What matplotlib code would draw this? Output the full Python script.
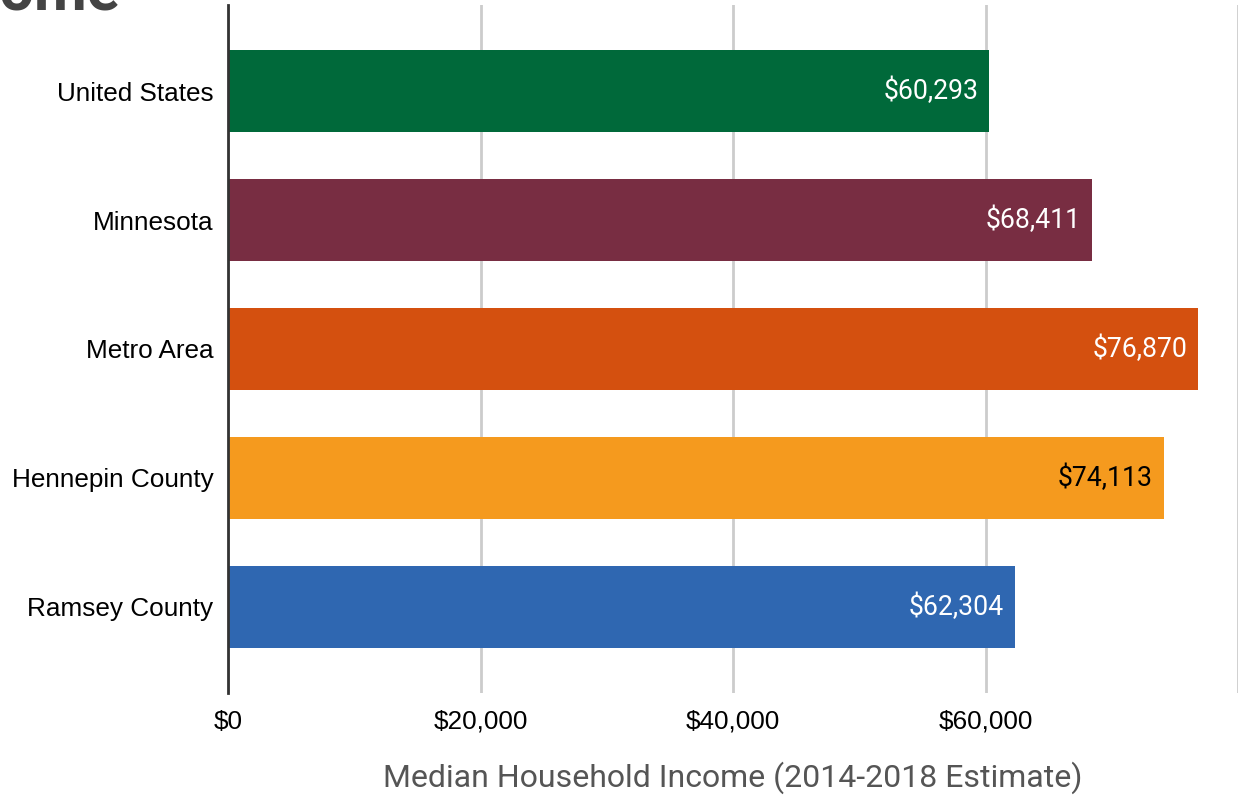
import matplotlib.pyplot as plt
from matplotlib.ticker import FuncFormatter

# median household income, 2014-2018 ACS estimate
regions = ["United States", "Minnesota", "Metro Area", "Hennepin County", "Ramsey County"]
income = [60293, 68411, 76870, 74113, 62304]
bar_colors = ["#00693A", "#782D42", "#D4500F", "#F59A1E", "#2F67B1"]
label_colors = ["white", "white", "white", "black", "white"]
x_ticks = [0, 20000, 40000, 60000, 80000]

fig = plt.figure(figsize=(12.43, 7.96), dpi=100)
ax = fig.add_axes([228 / 1243, 103 / 796, 1010 / 1243, 688 / 796])

ypos = list(range(len(regions)))
ax.barh(ypos, income, height=0.63, color=bar_colors, zorder=3)

for y, v, c in zip(ypos, income, label_colors):
    ax.text(v - 850, y, "${:,}".format(v), ha="right", va="center",
            color=c, fontsize=19.2, family="Roboto", zorder=4)

ax.set_xlim(0, 80000)
ax.set_ylim(len(regions) - 1 + 0.667, -0.667)
ax.set_yticks(ypos)
ax.set_yticklabels(regions, family="Liberation Sans", fontsize=18.8)
ax.set_xticks(x_ticks)
ax.xaxis.set_major_formatter(FuncFormatter(lambda v, p: "${:,.0f}".format(v)))
for lab in ax.get_xticklabels():
    lab.set_family("Liberation Sans")
    lab.set_fontsize(18.8)
# no label on the last gridline
ax.get_xticklabels()[-1].set_visible(False)
ax.tick_params(axis="both", length=0)
ax.tick_params(axis="y", pad=10.5)
ax.tick_params(axis="x", pad=12)

ax.grid(axis="x", color="#cccccc", linewidth=2, zorder=0)
for s in ["top", "right", "bottom"]:
    ax.spines[s].set_visible(False)
ax.spines["left"].set_color("#333333")
ax.spines["left"].set_linewidth(2)
ax.spines["left"].set_zorder(5)

ax.set_xlabel("Median Household Income (2014-2018 Estimate)", family="Roboto",
              fontsize=23, color="#555555", labelpad=20)

# heading above the chart
fig.text(120 / 1243, 1 - 10 / 796, "Median Household Income", ha="right", va="baseline",
         fontsize=44, fontweight="bold", family="Roboto", color="#444444")

fig.savefig("out.png", dpi=100)
